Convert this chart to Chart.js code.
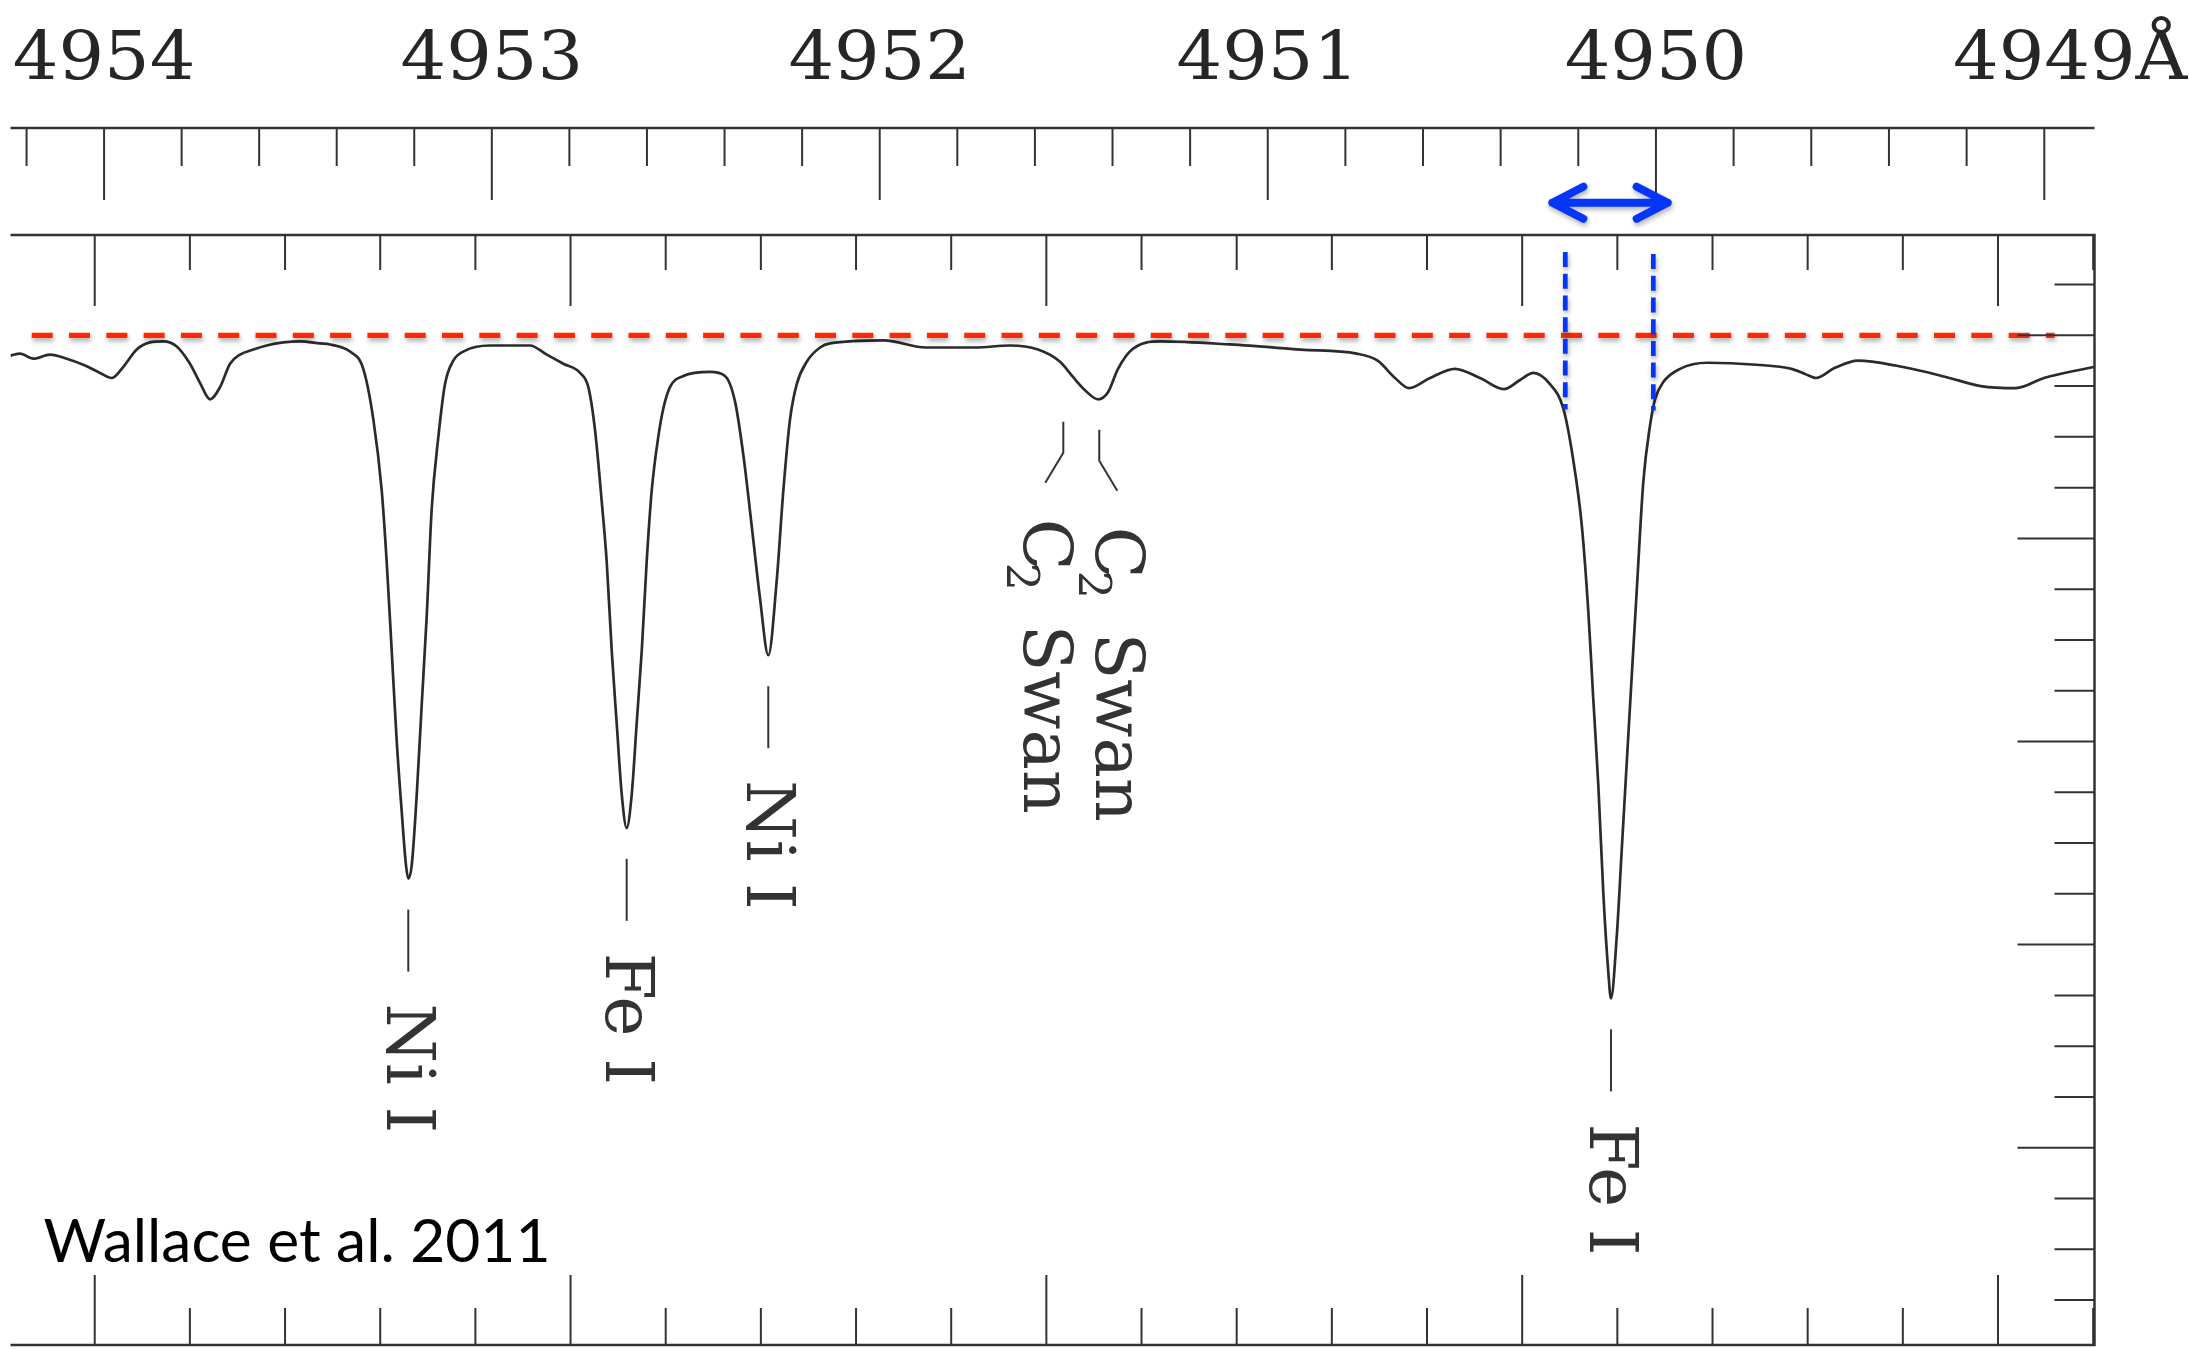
<!DOCTYPE html>
<html>
<head>
<meta charset="utf-8">
<title>Sunspot spectrum 4949–4954 Å</title>
<script src="https://cdn.jsdelivr.net/npm/chart.js@4.4.1/dist/chart.umd.min.js"></script>
<style>
  html, body { margin: 0; padding: 0; background: #fff; }
  #wrap { width: 2189px; height: 1349px; }
</style>
</head>
<body>
<div id="wrap"><canvas id="spectrum" width="2189" height="1349"></canvas></div>
<script>
// Spectrum trace: vacuum wavenumber (cm^-1) and relative intensity
const wavenumbers = [
  20179.115, 20179.215, 20179.355, 20179.530, 20179.706, 20179.880, 20180.056, 20180.179,
  20180.301, 20180.441, 20180.581, 20180.721, 20180.862, 20181.001, 20181.107, 20181.212,
  20181.317, 20181.422, 20181.527, 20181.667, 20181.807, 20181.982, 20182.157, 20182.367,
  20182.473, 20182.683, 20182.822, 20182.928, 20183.016, 20183.068, 20183.121, 20183.173,
  20183.226, 20183.271, 20183.295, 20183.331, 20183.384, 20183.436, 20183.489, 20183.541,
  20183.611, 20183.681, 20183.768, 20183.873, 20184.154, 20184.574, 20184.750, 20184.924,
  20185.100, 20185.187, 20185.257, 20185.328, 20185.380, 20185.433, 20185.485, 20185.538,
  20185.590, 20185.643, 20185.695, 20185.748, 20185.800, 20185.853, 20185.922, 20185.975,
  20186.045, 20186.185, 20186.466, 20186.623, 20186.728, 20186.816, 20186.904, 20186.991,
  20187.078, 20187.167, 20187.236, 20187.306, 20187.377, 20187.482, 20187.622, 20187.727,
  20188.294, 20188.735, 20189.250, 20189.618, 20189.912, 20190.144, 20190.280, 20190.406,
  20190.543, 20190.648, 20190.753, 20190.900, 20191.194, 20191.930, 20192.671, 20193.260,
  20193.481, 20193.664, 20193.811, 20194.032, 20194.292, 20194.557, 20194.808, 20194.977,
  20195.117, 20195.292, 20195.432, 20195.537, 20195.626, 20195.695, 20195.747, 20195.800,
  20195.853, 20195.905, 20195.933, 20195.993, 20196.046, 20196.098, 20196.151, 20196.204,
  20196.273, 20196.343, 20196.396, 20196.483, 20196.659, 20196.945, 20197.461, 20197.830,
  20197.972, 20198.088, 20198.287, 20198.529, 20198.936, 20199.452, 20199.821, 20200.189,
  20200.483, 20201.014
];
const intensity = [
  0.980, 0.982, 0.977, 0.981, 0.977, 0.971, 0.963, 0.958,
  0.969, 0.986, 0.993, 0.994, 0.989, 0.972, 0.953, 0.937,
  0.949, 0.972, 0.981, 0.986, 0.990, 0.993, 0.994, 0.992,
  0.991, 0.984, 0.967, 0.917, 0.847, 0.777, 0.689, 0.601,
  0.531, 0.478, 0.465, 0.478, 0.548, 0.636, 0.724, 0.829,
  0.900, 0.952, 0.975, 0.984, 0.990, 0.990, 0.981, 0.972,
  0.963, 0.949, 0.907, 0.836, 0.777, 0.689, 0.618, 0.548,
  0.515, 0.548, 0.618, 0.689, 0.777, 0.847, 0.900, 0.928,
  0.949, 0.960, 0.964, 0.960, 0.935, 0.882, 0.812, 0.741,
  0.685, 0.759, 0.847, 0.917, 0.952, 0.974, 0.988, 0.992,
  0.995, 0.988, 0.988, 0.990, 0.986, 0.974, 0.959, 0.946,
  0.937, 0.944, 0.967, 0.986, 0.994, 0.991, 0.986, 0.982,
  0.975, 0.958, 0.948, 0.958, 0.967, 0.958, 0.947, 0.956,
  0.963, 0.952, 0.928, 0.877, 0.813, 0.728, 0.642, 0.557,
  0.450, 0.373, 0.347, 0.407, 0.493, 0.578, 0.664, 0.749,
  0.856, 0.911, 0.937, 0.954, 0.967, 0.973, 0.971, 0.967,
  0.962, 0.958, 0.968, 0.975, 0.970, 0.959, 0.950, 0.948,
  0.958, 0.969
];

// upper scale: air wavelengths in Angstrom
const wavelengthLabels = [4954, 4953, 4952, 4951, 4950, 4949];
const AIR_INDEX = 1.000278;

// identified atomic lines
const lineIds = ['Ni I', 'Fe I', 'Ni I', 'Fe I'];
const lineIdWavenumbers = [20183.295, 20185.590, 20187.078, 20195.933];

// C2 Swan band heads: position and top of the marker
const swanWavenumbers = [20190.178, 20190.556];
const swanMarkerTop = [0.915, 0.907];

// continuum level and the marked interval around the Fe I line
const continuumLevel = 1.0;
const continuumSpan = [20179.338, 20200.595];
const bandEdges = [20195.453, 20196.378];
const bandEdgeTop = [1.082, 1.080];
const bandEdgeBottom = [0.927, 0.926];
const arrowSpan = [20195.275, 20196.571];
const arrowLevel = 1.1306;

const xRange = [20179.115, 20201.014];
const yRange = [0.0057, 1.0988];

const toWavenumber = lambda => 1e8 / (lambda * AIR_INDEX);

function segment(ctx, x1, y1, x2, y2) {
  ctx.beginPath();
  ctx.moveTo(x1, y1);
  ctx.lineTo(x2, y2);
  ctx.stroke();
}

// soft drop shadow for the overlay lines
const shadowPlugin = {
  id: 'dropShadow',
  beforeDatasetDraw(chart, args) {
    if (!chart.data.datasets[args.index].dropShadow) return;
    const ctx = chart.ctx;
    ctx.save();
    ctx.shadowColor = 'rgba(0,0,0,0.35)';
    ctx.shadowBlur = 5;
    ctx.shadowOffsetX = 1;
    ctx.shadowOffsetY = 3;
  },
  afterDatasetDraw(chart, args) {
    if (chart.data.datasets[args.index].dropShadow) chart.ctx.restore();
  }
};

// frame, tick marks, wavelength scale and line identifications
const framePlugin = {
  id: 'frame',
  afterDraw(chart) {
    const { ctx, chartArea: a } = chart;
    const x = chart.scales.x, y = chart.scales.y;
    ctx.save();
    ctx.strokeStyle = '#333';
    ctx.lineCap = 'butt';

    // box, open on the left side
    ctx.lineWidth = 2.5;
    ctx.beginPath();
    ctx.moveTo(a.left, a.top);
    ctx.lineTo(a.right, a.top);
    ctx.lineTo(a.right, a.bottom);
    ctx.lineTo(a.left, a.bottom);
    ctx.stroke();

    // wavenumber ticks: every 1 cm^-1, long every 5
    ctx.lineWidth = 2;
    for (let s = Math.ceil(x.min); s <= x.max; s++) {
      const px = x.getPixelForValue(s);
      const major = s % 5 === 0;
      segment(ctx, px, a.top, px, a.top + (major ? 71 : 35));
      segment(ctx, px, a.bottom, px, a.bottom - (major ? 70 : 37));
    }
    // intensity ticks on the right edge: every 0.05, long every 0.2
    for (let k = 1; k * 0.05 <= y.max; k++) {
      const py = y.getPixelForValue(k * 0.05);
      segment(ctx, a.right, py, a.right - (k % 4 === 0 ? 77 : 40), py);
    }

    // wavelength scale above the box
    const axisY = a.top - 107;
    ctx.lineWidth = 2.5;
    segment(ctx, a.left, axisY, a.right, axisY);
    ctx.lineWidth = 2;
    for (let k = 24744; k <= 24772; k++) {
      const px = x.getPixelForValue(toWavenumber(k / 5));
      if (px < a.left || px > a.right) continue;
      segment(ctx, px, axisY, px, axisY + (k % 5 === 0 ? 72 : 38));
    }
    ctx.fillStyle = '#262626';
    ctx.font = '67px "DejaVu Serif"';
    ctx.textBaseline = 'alphabetic';
    ctx.textAlign = 'left';
    const stretch = 1.07;
    wavelengthLabels.forEach((lambda, i) => {
      const px = x.getPixelForValue(toWavenumber(lambda));
      const txt = String(lambda) + (i === wavelengthLabels.length - 1 ? '\u00C5' : '');
      const w = ctx.measureText(String(lambda)).width * stretch;
      ctx.save();
      ctx.translate(px - w / 2, a.top - 156);
      ctx.scale(stretch, 1);
      ctx.fillText(txt, 0, 0);
      ctx.restore();
    });

    // atomic line identifications below each core
    ctx.fillStyle = '#333';
    ctx.font = '68px "DejaVu Serif"';
    lineIdWavenumbers.forEach((s, i) => {
      let depth = Infinity;
      wavenumbers.forEach((w, j) => {
        if (Math.abs(w - s) < 0.15) depth = Math.min(depth, intensity[j]);
      });
      const px = x.getPixelForValue(s);
      const py = y.getPixelForValue(depth);
      segment(ctx, px, py + 31, px, py + 93);
      ctx.save();
      ctx.translate(px, py + 125);
      ctx.rotate(Math.PI / 2);
      ctx.textAlign = 'left';
      ctx.fillText(lineIds[i], 0, 21);
      ctx.restore();
    });

    // C2 Swan markers
    swanWavenumbers.forEach((s, i) => {
      const dir = i === 0 ? -1 : 1;
      const px = x.getPixelForValue(s);
      const py = y.getPixelForValue(swanMarkerTop[i]);
      ctx.beginPath();
      ctx.moveTo(px, py);
      ctx.lineTo(px, py + 31);
      ctx.lineTo(px + dir * 18, py + 61);
      ctx.stroke();
      ctx.save();
      ctx.translate(px + dir * 18, py + 97);
      ctx.rotate(Math.PI / 2);
      ctx.textAlign = 'left';
      ctx.font = '68px "DejaVu Serif"';
      ctx.fillText('C', 0, 21);
      const cw = ctx.measureText('C').width;
      ctx.font = '44px "DejaVu Serif"';
      ctx.fillText('2', cw - 8, 38);
      ctx.font = '68px "DejaVu Serif"';
      ctx.fillText('Swan', 106, 21);
      ctx.restore();
    });

    // double arrow over the marked interval
    const ay = y.getPixelForValue(arrowLevel);
    const x1 = x.getPixelForValue(arrowSpan[0]) + 4;
    const x2 = x.getPixelForValue(arrowSpan[1]) - 4;
    ctx.save();
    ctx.shadowColor = 'rgba(0,0,0,0.3)';
    ctx.shadowBlur = 5;
    ctx.shadowOffsetX = 1;
    ctx.shadowOffsetY = 3;
    ctx.strokeStyle = '#0535f8';
    ctx.lineWidth = 8;
    ctx.lineCap = 'round';
    ctx.lineJoin = 'round';
    ctx.beginPath();
    ctx.moveTo(x1, ay);
    ctx.lineTo(x2, ay);
    ctx.moveTo(x1 + 31, ay - 16);
    ctx.lineTo(x1, ay);
    ctx.lineTo(x1 + 31, ay + 16);
    ctx.moveTo(x2 - 31, ay - 16);
    ctx.lineTo(x2, ay);
    ctx.lineTo(x2 - 31, ay + 16);
    ctx.stroke();
    ctx.restore();

    // reference note
    ctx.fillStyle = '#000';
    ctx.font = '60px Lato';
    ctx.textAlign = 'left';
    const note = 'Wallace et al. 2011';
    const nw = ctx.measureText(note).width;
    ctx.save();
    ctx.translate(a.left + 33, a.bottom - 83);
    ctx.scale(507 / nw, 1);
    ctx.fillText(note, 0, 0);
    ctx.restore();

    ctx.restore();
  }
};

const bandEdge = (i) => ({
  data: [{ x: bandEdges[i], y: bandEdgeTop[i] }, { x: bandEdges[i], y: bandEdgeBottom[i] }],
  borderColor: '#0535f8',
  borderWidth: 4.7,
  borderDash: [15, 6.7],
  pointRadius: 0,
  dropShadow: true,
  order: 1
});

const ctx = document.getElementById('spectrum').getContext('2d');
new Chart(ctx, {
  type: 'line',
  data: {
    datasets: [
      {
        label: 'spectrum',
        data: wavenumbers.map((s, i) => ({ x: s, y: intensity[i] })),
        borderColor: '#2b2b2b',
        borderWidth: 2.7,
        pointRadius: 0,
        cubicInterpolationMode: 'monotone',
        order: 3
      },
      {
        label: 'continuum',
        data: [{ x: continuumSpan[0], y: continuumLevel }, { x: continuumSpan[1], y: continuumLevel }],
        borderColor: '#ff2800',
        borderWidth: 5.3,
        borderDash: [21, 16.3],
        pointRadius: 0,
        dropShadow: true,
        order: 2
      },
      bandEdge(0),
      bandEdge(1)
    ]
  },
  options: {
    responsive: false,
    animation: false,
    layout: { padding: { left: 10.5, right: 94.5, top: 235, bottom: 4 } },
    scales: {
      x: { type: 'linear', min: xRange[0], max: xRange[1], display: false },
      y: { type: 'linear', min: yRange[0], max: yRange[1], display: false }
    },
    plugins: {
      legend: { display: false },
      tooltip: { enabled: false }
    }
  },
  plugins: [shadowPlugin, framePlugin]
});
</script>
</body>
</html>
